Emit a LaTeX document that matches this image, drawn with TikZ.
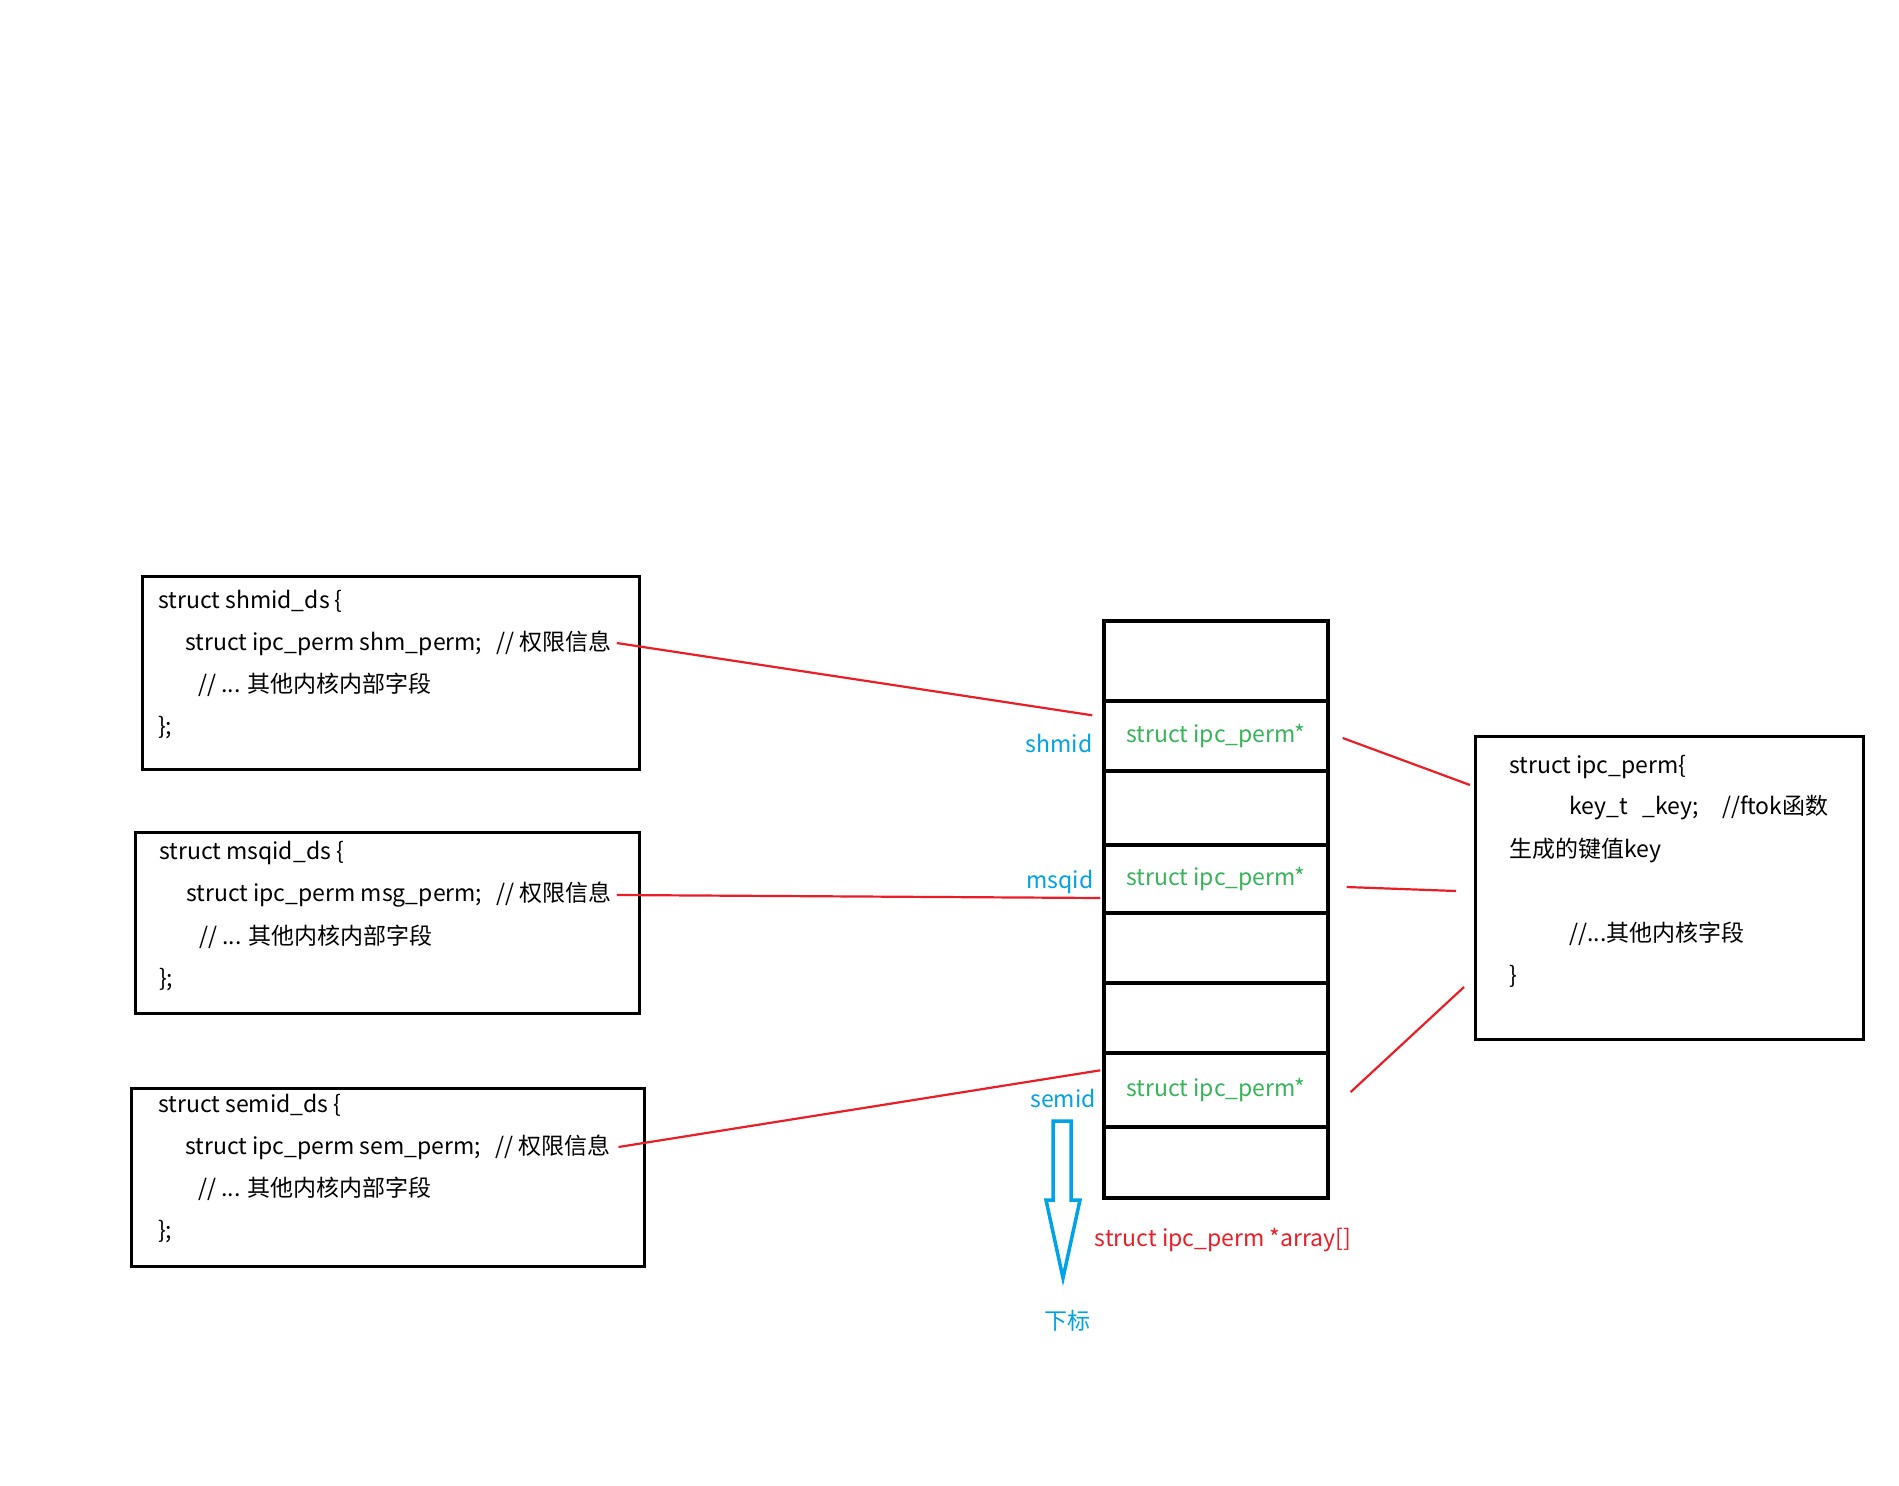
\documentclass[tikz,border=0pt]{standalone}
\usepackage{fontspec}
\setmainfont{Noto Sans CJK SC}
\usetikzlibrary{positioning}
\definecolor{idblue}{RGB}{0,162,232}
\definecolor{permgreen}{RGB}{55,180,90}
\definecolor{linkred}{RGB}{235,30,40}

\begin{document}
\begin{tikzpicture}[x=1pt,y=-1pt,
  txt/.style={font=\fontsize{23}{28}\selectfont},
  codebox/.style={draw,line width=3pt,anchor=north west,inner sep=0},
  codeline/.style={txt,anchor=west,inner sep=0},
  cell/.style={draw,line width=3.4pt,minimum width=224pt,inner sep=0,txt,text=permgreen},
  link/.style={linkred,line width=2.2pt},
  idlabel/.style={txt,text=idblue,inner sep=0}]

\useasboundingbox (0,0) rectangle (1899,1486);
\fill[white] (0,0) rectangle (1899,1486);

% the three *_ds structs
\foreach \n/\id/\pm/\bx/\by/\bw/\bh/\tx/\ty in {shm/shmid/shm/141/575/497/193/158/601,
    msq/msqid/msg/134/831/504/181/159/853, sem/semid/sem/130/1087/513/178/158/1105}{
  \node[codebox,minimum width=\bw pt,minimum height=\bh pt] (\n box) at (\bx,\by) {};
  \node[codeline] (\n0) at (\tx,\ty) {struct \id\_ds \{};
  \node[codeline] (\n1) at (\tx+27,\ty+42) {struct ipc\_perm \pm\_perm;\hspace{14pt}// 权限信息};
  \node[codeline] (\n2) at (\tx+40,\ty+84) {// ... 其他内核内部字段};
  \node[codeline] (\n3) at (\tx,\ty+127) {\};};
}

% array column
\foreach \i/\y/\h/\t in {1/661/80/, 2/736/70/struct ipc\_perm*, 3/808/74/, 4/879/68/struct ipc\_perm*,
    5/948/70/, 6/1018/70/, 7/1090/74/struct ipc\_perm*, 8/1162.5/71/}
  \node[cell,minimum height=\h pt] (c\i) at (1216,\y) {\t};

\node[idlabel] (shmid) at (1059,743) {shmid};
\node[idlabel] (msqid) at (1060,882) {msqid};
\node[idlabel] (semid) at (1063,1098) {semid};
\node[txt,text=linkred,inner sep=0] (arr) at (1223,1240) {struct ipc\_perm *array[]};
\node[idlabel] (sub) at (1067,1321) {下标};

% index arrow
\draw[idblue,line width=3.5pt] (1053,1121) -- (1071,1121) -- (1071,1200) -- (1080,1200)
  -- (1063,1278) -- (1046,1200) -- (1053,1200) -- cycle;

% ipc_perm struct
\node[codebox,minimum width=388pt,minimum height=303pt] (perm) at (1474,735) {};
\node[codeline] (perm0) at (1509,767) {struct ipc\_perm\{};
\node[codeline] (perm1) at (1569,808) {key\_t\hspace{15pt}\_key;\hspace{23pt}//ftok函数};
\node[codeline] (perm2) at (1509,850) {生成的键值key};
\node[codeline] (perm3) at (1569,934) {//...其他内核字段};
\node[codeline] (perm4) at (1509,976) {\}};

% links
\draw[link] ([xshift=5pt]shm1.east) -- ([shift={(-10,16)}]c2.north west);
\draw[link] ([xshift=5pt]msq1.east) -- ([shift={(-2,19)}]c4.west);
\draw[link] ([xshift=8pt]sem1.east) -- ([shift={(-2,19)}]c7.north west);
\draw[link] ([shift={(13,2)}]c2.east) -- ([shift={(-4,50)}]perm.north west);
\draw[link] ([shift={(17,8)}]c4.east) -- ([shift={(-18,156)}]perm.north west);
\draw[link] ([shift={(21,2)}]c7.east) -- ([shift={(-10,252)}]perm.north west);
\end{tikzpicture}
\end{document}
